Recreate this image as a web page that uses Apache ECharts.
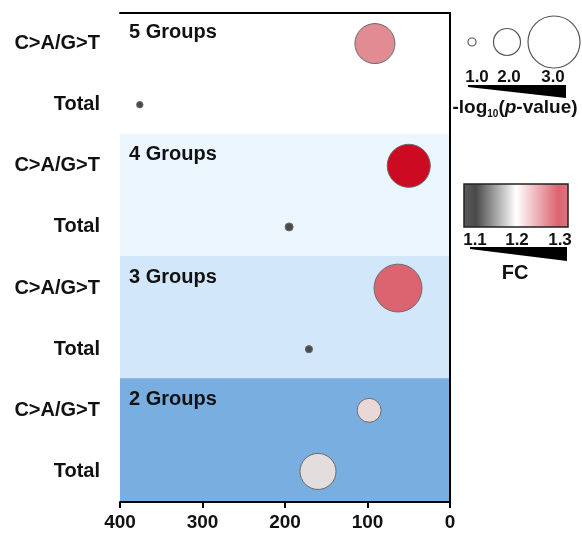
<!DOCTYPE html>
<html><head><meta charset="utf-8">
<script src="https://cdn.jsdelivr.net/npm/echarts@6/dist/echarts.min.js"></script>
<style>html,body{margin:0;padding:0;background:#fff}#c{width:582px;height:533px}</style>
</head><body><div id="c"></div>
<script>
// ---- data ----
const rowLabels = ['C>A/G>T','Total','C>A/G>T','Total','C>A/G>T','Total','C>A/G>T','Total'];
const groupNames = ['5 Groups','4 Groups','3 Groups','2 Groups'];
const xValues = [91, 376, 50, 195, 63, 171, 98, 160];
const negLogP = [2.55, 0.9, 2.67, 1.0, 2.85, 0.95, 1.86, 2.39];
const foldChange = [1.27, 1.1, 1.4, 1.1, 1.3, 1.1, 1.21, 1.195];
const xTickValues = [0, 100, 200, 300, 400];
const sizeLegendValues = [1.0, 2.0, 3.0];
const colorLegendValues = [1.1, 1.2, 1.3];

// ---- styles ----
const FONT = '"Liberation Sans", Arial, sans-serif';
const bandColors = ['#ffffff', '#ebf6fe', '#d2e7f9', '#79aee0'];
const fcColors = ['#4a4a4a', '#ebe5e5', '#dc6470', '#cc0a22'];
function sizeFn(p) { return 3 * p * p + 10 * p - 5; }

const chart = echarts.init(document.getElementById('c'));

const axisLineStyle = { show: true, lineStyle: { color: '#000', width: 2 } };

const graphics = [];
// size legend circles
const sizeCenters = [472, 507, 554];
sizeLegendValues.forEach((v, i) => {
  const r = sizeFn(v) / 2;
  graphics.push({ type: 'circle', shape: { cx: sizeCenters[i], cy: 42, r: r },
    style: { fill: '#fff', stroke: '#555', lineWidth: 1.2 } });
});
const sizeLabelX = [477, 509, 553];
sizeLegendValues.forEach((v, i) => {
  graphics.push({ type: 'text', x: sizeLabelX[i], y: 77,
    style: { text: v.toFixed(1), font: 'bold 17px ' + FONT, fill: '#111', align: 'center', verticalAlign: 'middle' } });
});
graphics.push({ type: 'polygon', shape: { points: [[468, 85], [566, 85], [566, 98], [468, 87]] }, style: { fill: '#000' } });
graphics.push({ type: 'text', x: 515, y: 108,
  style: {
    text: '{a|-log}{s|10}{a|(}{i|p}{a|-value)}',
    align: 'center', verticalAlign: 'middle',
    rich: {
      a: { font: 'bold 19px ' + FONT, fill: '#111', lineHeight: 22 },
      i: { font: 'italic bold 19px ' + FONT, fill: '#111', lineHeight: 22 },
      s: { font: 'bold 10px ' + FONT, fill: '#111', lineHeight: 10, verticalAlign: 'bottom' }
    }
  } });
// color legend
graphics.push({ type: 'rect', shape: { x: 464, y: 184, width: 104, height: 43 },
  style: {
    fill: new echarts.graphic.LinearGradient(0, 0, 1, 0, [
      { offset: 0, color: '#5a5a5a' }, { offset: 0.12, color: fcColors[0] },
      { offset: 0.5, color: '#ffffff' }, { offset: 0.9, color: fcColors[2] }, { offset: 1, color: '#e07480' }]),
    stroke: '#222', lineWidth: 1.5 } });
const colorLabelX = [475, 517, 560];
colorLegendValues.forEach((v, i) => {
  graphics.push({ type: 'text', x: colorLabelX[i], y: 240,
    style: { text: v.toFixed(1), font: 'bold 17px ' + FONT, fill: '#111', align: 'center', verticalAlign: 'middle' } });
});
graphics.push({ type: 'polygon', shape: { points: [[470, 247], [567, 247], [567, 261], [470, 249]] }, style: { fill: '#000' } });
graphics.push({ type: 'text', x: 515, y: 273,
  style: { text: 'FC', font: 'bold 20px ' + FONT, fill: '#111', align: 'center', verticalAlign: 'middle' } });

const option = {
  animation: false,
  backgroundColor: '#fff',
  textStyle: { fontFamily: FONT },
  grid: { left: 120, right: 132, top: 13, bottom: 31, containLabel: false },
  xAxis: [
    { type: 'value', inverse: true, min: xTickValues[0], max: xTickValues[xTickValues.length - 1], interval: 100,
      position: 'bottom', z: 10, axisLine: axisLineStyle,
      axisTick: { show: true, length: 6, lineStyle: { color: '#000', width: 2 } },
      axisLabel: { fontSize: 19, fontWeight: 'bold', color: '#111', margin: 11, fontFamily: FONT },
      splitLine: { show: false } },
    { type: 'value', inverse: true, min: 0, max: 400, position: 'top', z: 10, axisLine: axisLineStyle,
      axisTick: { show: false }, axisLabel: { show: false }, splitLine: { show: false } }
  ],
  yAxis: [
    { type: 'category', inverse: true, data: rowLabels, z: 10, axisLine: axisLineStyle,
      axisTick: { show: false },
      axisLabel: { fontSize: 20, fontWeight: 'bold', color: '#111', margin: 20, fontFamily: FONT } },
    { type: 'category', inverse: true, data: rowLabels, position: 'right', z: 10, axisLine: axisLineStyle,
      axisTick: { show: false }, axisLabel: { show: false } }
  ],
  visualMap: {
    type: 'continuous', show: false, seriesIndex: 2, dimension: 3,
    min: 1.1, max: 1.4, inRange: { color: fcColors }
  },
  series: [
    { type: 'bar', silent: true, barWidth: 64, z: 1,
      data: rowLabels.map((_, i) => {
        const c = bandColors[Math.floor(i / 2)];
        return { value: xTickValues[xTickValues.length - 1], itemStyle: { color: c }, z: i };
      }) },
    { type: 'scatter', silent: true, symbolSize: 0, z: 3,
      itemStyle: { opacity: 1 },
      data: groupNames.map((g, i) => [xTickValues[xTickValues.length - 1], i * 2]),
      label: { show: true, position: 'right', distance: 9, offset: [0, -11],
        formatter: p => groupNames[p.dataIndex],
        fontSize: 20, fontWeight: 'bold', color: '#111', opacity: 1, fontFamily: FONT } },
    { type: 'scatter', z: 4,
      data: rowLabels.map((_, i) => [xValues[i], i, negLogP[i], foldChange[i]]),
      symbolSize: v => sizeFn(v[2]),
      itemStyle: { borderColor: '#6a6a6a', borderWidth: 1, opacity: 1 } }
  ],
  graphic: graphics
};
chart.setOption(option);
</script>
</body></html>
